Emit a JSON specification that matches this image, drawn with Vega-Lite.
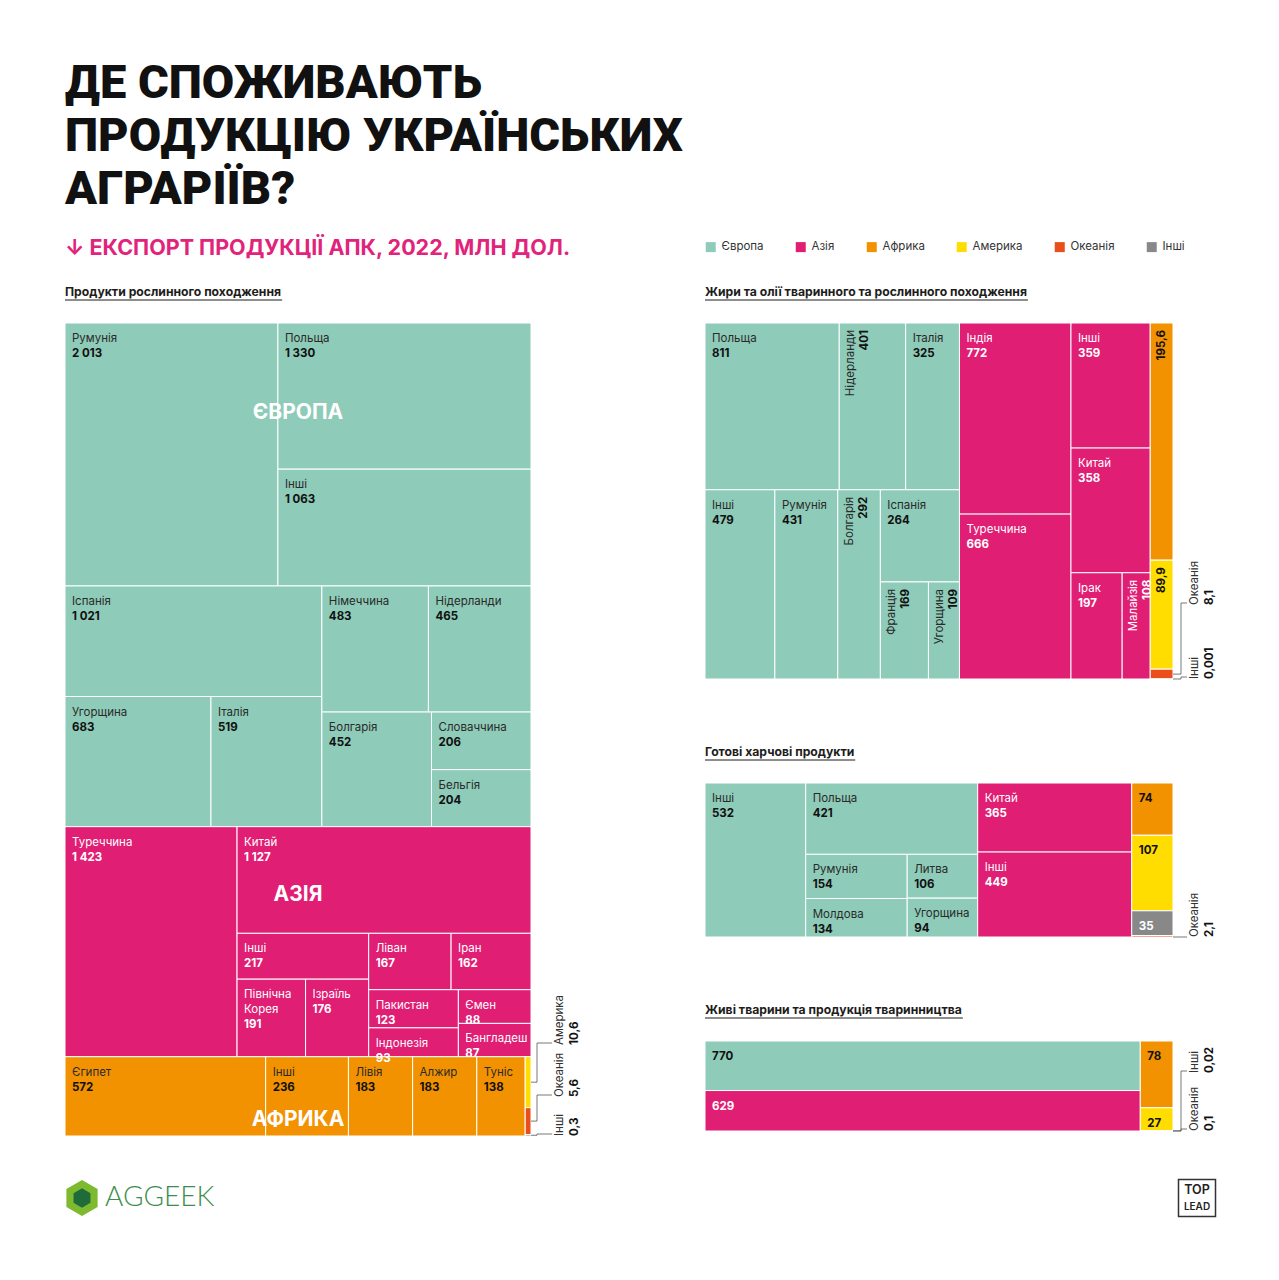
{
  "$schema": "https://vega.github.io/schema/vega-lite/v6.json",
  "background": "#ffffff",
  "padding": {"left": 64, "top": 59, "right": 0, "bottom": 0},
  "autosize": {"type": "pad"},
  "title": {
    "text": ["ДЕ СПОЖИВАЮТЬ", "ПРОДУКЦІЮ УКРАЇНСЬКИХ", "АГРАРІЇВ?"],
    "subtitle": "↓ ЕКСПОРТ ПРОДУКЦІЇ АПК, 2022, МЛН ДОЛ.",
    "anchor": "start", "frame": "group", "baseline": "top",
    "font": "Roboto", "fontSize": 47, "fontWeight": 900, "lineHeight": 53, "color": "#111111",
    "subtitleFont": "Inter", "subtitleFontSize": 21.5, "subtitleFontWeight": 700, "subtitleColor": "#E2237B",
    "subtitlePadding": 24, "offset": -19
  },
  "data": {"values": [
    {"pn": "P", "r": "Європа", "n": "Румунія", "v": 2013, "a": 1, "b": 1, "c": 1, "d": 1, "e": 1, "f": 1, "g": 1},
    {"pn": "P", "r": "Європа", "n": "Польща", "v": 1330, "a": 1, "b": 2, "c": 1, "d": 1, "e": 1, "f": 1, "g": 1},
    {"pn": "P", "r": "Європа", "n": "Інші", "v": 1063, "a": 1, "b": 2, "c": 2, "d": 1, "e": 1, "f": 1, "g": 1},
    {"pn": "P", "r": "Європа", "n": "Іспанія", "v": 1021, "a": 2, "b": 1, "c": 1, "d": 1, "e": 1, "f": 1, "g": 1},
    {"pn": "P", "r": "Європа", "n": "Угорщина", "v": 683, "a": 2, "b": 1, "c": 2, "d": 1, "e": 1, "f": 1, "g": 1},
    {"pn": "P", "r": "Європа", "n": "Італія", "v": 519, "a": 2, "b": 1, "c": 2, "d": 2, "e": 1, "f": 1, "g": 1},
    {"pn": "P", "r": "Європа", "n": "Німеччина", "v": 483, "a": 2, "b": 2, "c": 1, "d": 1, "e": 1, "f": 1, "g": 1},
    {"pn": "P", "r": "Європа", "n": "Нідерланди", "v": 465, "a": 2, "b": 2, "c": 1, "d": 2, "e": 1, "f": 1, "g": 1},
    {"pn": "P", "r": "Європа", "n": "Болгарія", "v": 452, "a": 2, "b": 2, "c": 2, "d": 1, "e": 1, "f": 1, "g": 1},
    {"pn": "P", "r": "Європа", "n": "Словаччина", "v": 206, "a": 2, "b": 2, "c": 2, "d": 2, "e": 1, "f": 1, "g": 1},
    {"pn": "P", "r": "Європа", "n": "Бельгія", "v": 204, "a": 2, "b": 2, "c": 2, "d": 2, "e": 2, "f": 1, "g": 1},
    {"pn": "P", "r": "Азія", "n": "Туреччина", "v": 1423, "a": 3, "b": 1, "c": 1, "d": 1, "e": 1, "f": 1, "g": 1},
    {"pn": "P", "r": "Азія", "n": "Китай", "v": 1127, "a": 3, "b": 2, "c": 1, "d": 1, "e": 1, "f": 1, "g": 1},
    {"pn": "P", "r": "Азія", "n": "Інші", "v": 217, "a": 3, "b": 2, "c": 2, "d": 1, "e": 1, "f": 1, "g": 1},
    {"pn": "P", "r": "Азія", "n": "Північна Корея", "v": 191, "a": 3, "b": 2, "c": 2, "d": 1, "e": 2, "f": 1, "g": 1},
    {"pn": "P", "r": "Азія", "n": "Ізраїль", "v": 176, "a": 3, "b": 2, "c": 2, "d": 1, "e": 2, "f": 2, "g": 1},
    {"pn": "P", "r": "Азія", "n": "Ліван", "v": 167, "a": 3, "b": 2, "c": 2, "d": 2, "e": 1, "f": 1, "g": 1},
    {"pn": "P", "r": "Азія", "n": "Іран", "v": 162, "a": 3, "b": 2, "c": 2, "d": 2, "e": 1, "f": 2, "g": 1},
    {"pn": "P", "r": "Азія", "n": "Пакистан", "v": 123, "a": 3, "b": 2, "c": 2, "d": 2, "e": 2, "f": 1, "g": 1},
    {"pn": "P", "r": "Азія", "n": "Індонезія", "v": 93, "a": 3, "b": 2, "c": 2, "d": 2, "e": 2, "f": 1, "g": 2},
    {"pn": "P", "r": "Азія", "n": "Ємен", "v": 88, "a": 3, "b": 2, "c": 2, "d": 2, "e": 2, "f": 2, "g": 1},
    {"pn": "P", "r": "Азія", "n": "Бангладеш", "v": 87, "a": 3, "b": 2, "c": 2, "d": 2, "e": 2, "f": 2, "g": 2},
    {"pn": "P", "r": "Африка", "n": "Єгипет", "v": 572, "a": 4, "b": 1, "c": 1, "d": 1, "e": 1, "f": 1, "g": 1},
    {"pn": "P", "r": "Африка", "n": "Інші", "v": 236, "a": 4, "b": 2, "c": 1, "d": 1, "e": 1, "f": 1, "g": 1},
    {"pn": "P", "r": "Африка", "n": "Лівія", "v": 183, "a": 4, "b": 3, "c": 1, "d": 1, "e": 1, "f": 1, "g": 1},
    {"pn": "P", "r": "Африка", "n": "Алжир", "v": 183, "a": 4, "b": 4, "c": 1, "d": 1, "e": 1, "f": 1, "g": 1},
    {"pn": "P", "r": "Африка", "n": "Туніс", "v": 138, "a": 4, "b": 5, "c": 1, "d": 1, "e": 1, "f": 1, "g": 1},
    {"pn": "P", "r": "Америка", "n": "Америка", "v": 10.6, "a": 4, "b": 6, "c": 1, "d": 1, "e": 1, "f": 1, "g": 1},
    {"pn": "P", "r": "Океанія", "n": "Океанія", "v": 5.6, "a": 4, "b": 6, "c": 2, "d": 1, "e": 1, "f": 1, "g": 1},
    {"pn": "P", "r": "Інші", "n": "Інші", "v": 0.3, "a": 4, "b": 6, "c": 3, "d": 1, "e": 1, "f": 1, "g": 1},

    {"pn": "F", "r": "Європа", "n": "Польща", "v": 811, "a": 1, "b": 1, "c": 1, "d": 1, "e": 1, "f": 1, "g": 1},
    {"pn": "F", "r": "Європа", "n": "Нідерланди", "v": 401, "a": 1, "b": 1, "c": 1, "d": 2, "e": 1, "f": 1, "g": 1},
    {"pn": "F", "r": "Європа", "n": "Італія", "v": 325, "a": 1, "b": 1, "c": 1, "d": 3, "e": 1, "f": 1, "g": 1},
    {"pn": "F", "r": "Європа", "n": "Інші", "v": 479, "a": 1, "b": 1, "c": 2, "d": 1, "e": 1, "f": 1, "g": 1},
    {"pn": "F", "r": "Європа", "n": "Румунія", "v": 431, "a": 1, "b": 1, "c": 2, "d": 2, "e": 1, "f": 1, "g": 1},
    {"pn": "F", "r": "Європа", "n": "Болгарія", "v": 292, "a": 1, "b": 1, "c": 2, "d": 3, "e": 1, "f": 1, "g": 1},
    {"pn": "F", "r": "Європа", "n": "Іспанія", "v": 264, "a": 1, "b": 1, "c": 2, "d": 4, "e": 1, "f": 1, "g": 1},
    {"pn": "F", "r": "Європа", "n": "Франція", "v": 169, "a": 1, "b": 1, "c": 2, "d": 4, "e": 2, "f": 1, "g": 1},
    {"pn": "F", "r": "Європа", "n": "Угорщина", "v": 109, "a": 1, "b": 1, "c": 2, "d": 4, "e": 2, "f": 2, "g": 1},
    {"pn": "F", "r": "Азія", "n": "Індія", "v": 772, "a": 1, "b": 2, "c": 1, "d": 1, "e": 1, "f": 1, "g": 1},
    {"pn": "F", "r": "Азія", "n": "Туреччина", "v": 666, "a": 1, "b": 2, "c": 2, "d": 1, "e": 1, "f": 1, "g": 1},
    {"pn": "F", "r": "Азія", "n": "Інші", "v": 359, "a": 1, "b": 3, "c": 1, "d": 1, "e": 1, "f": 1, "g": 1},
    {"pn": "F", "r": "Азія", "n": "Китай", "v": 358, "a": 1, "b": 3, "c": 2, "d": 1, "e": 1, "f": 1, "g": 1},
    {"pn": "F", "r": "Азія", "n": "Ірак", "v": 197, "a": 1, "b": 3, "c": 3, "d": 1, "e": 1, "f": 1, "g": 1},
    {"pn": "F", "r": "Азія", "n": "Малайзія", "v": 108, "a": 1, "b": 3, "c": 3, "d": 2, "e": 1, "f": 1, "g": 1},
    {"pn": "F", "r": "Африка", "n": "Африка", "v": 195.6, "a": 1, "b": 4, "c": 1, "d": 1, "e": 1, "f": 1, "g": 1},
    {"pn": "F", "r": "Америка", "n": "Америка", "v": 89.9, "a": 1, "b": 4, "c": 2, "d": 1, "e": 1, "f": 1, "g": 1},
    {"pn": "F", "r": "Океанія", "n": "Океанія", "v": 8.1, "a": 1, "b": 4, "c": 3, "d": 1, "e": 1, "f": 1, "g": 1},
    {"pn": "F", "r": "Інші", "n": "Інші", "v": 0.001, "a": 1, "b": 4, "c": 4, "d": 1, "e": 1, "f": 1, "g": 1},

    {"pn": "R", "r": "Європа", "n": "Інші", "v": 532, "a": 1, "b": 1, "c": 1, "d": 1, "e": 1, "f": 1, "g": 1},
    {"pn": "R", "r": "Європа", "n": "Польща", "v": 421, "a": 1, "b": 2, "c": 1, "d": 1, "e": 1, "f": 1, "g": 1},
    {"pn": "R", "r": "Європа", "n": "Румунія", "v": 154, "a": 1, "b": 2, "c": 2, "d": 1, "e": 1, "f": 1, "g": 1},
    {"pn": "R", "r": "Європа", "n": "Молдова", "v": 134, "a": 1, "b": 2, "c": 2, "d": 1, "e": 2, "f": 1, "g": 1},
    {"pn": "R", "r": "Європа", "n": "Литва", "v": 106, "a": 1, "b": 2, "c": 2, "d": 2, "e": 1, "f": 1, "g": 1},
    {"pn": "R", "r": "Європа", "n": "Угорщина", "v": 94, "a": 1, "b": 2, "c": 2, "d": 2, "e": 2, "f": 1, "g": 1},
    {"pn": "R", "r": "Азія", "n": "Китай", "v": 365, "a": 1, "b": 3, "c": 1, "d": 1, "e": 1, "f": 1, "g": 1},
    {"pn": "R", "r": "Азія", "n": "Інші", "v": 449, "a": 1, "b": 3, "c": 2, "d": 1, "e": 1, "f": 1, "g": 1},
    {"pn": "R", "r": "Африка", "n": "Африка", "v": 74, "a": 1, "b": 4, "c": 1, "d": 1, "e": 1, "f": 1, "g": 1},
    {"pn": "R", "r": "Америка", "n": "Америка", "v": 107, "a": 1, "b": 4, "c": 2, "d": 1, "e": 1, "f": 1, "g": 1},
    {"pn": "R", "r": "Інші", "n": "Інші", "v": 35, "a": 1, "b": 4, "c": 3, "d": 1, "e": 1, "f": 1, "g": 1},
    {"pn": "R", "r": "Океанія", "n": "Океанія", "v": 2.1, "a": 1, "b": 4, "c": 4, "d": 1, "e": 1, "f": 1, "g": 1},

    {"pn": "L", "r": "Європа", "n": "Європа", "v": 770, "a": 1, "b": 1, "c": 1, "d": 1, "e": 1, "f": 1, "g": 1},
    {"pn": "L", "r": "Азія", "n": "Азія", "v": 629, "a": 1, "b": 1, "c": 2, "d": 1, "e": 1, "f": 1, "g": 1},
    {"pn": "L", "r": "Африка", "n": "Африка", "v": 78, "a": 1, "b": 2, "c": 1, "d": 1, "e": 1, "f": 1, "g": 1},
    {"pn": "L", "r": "Америка", "n": "Америка", "v": 27, "a": 1, "b": 2, "c": 2, "d": 1, "e": 1, "f": 1, "g": 1},
    {"pn": "L", "r": "Інші", "n": "Інші", "v": 0.02, "a": 1, "b": 2, "c": 3, "d": 1, "e": 1, "f": 1, "g": 1},
    {"pn": "L", "r": "Океанія", "n": "Океанія", "v": 0.1, "a": 1, "b": 2, "c": 4, "d": 1, "e": 1, "f": 1, "g": 1}
  ]},
  "transform": [
    {"stack": "v", "groupby": ["pn"], "sort": [{"field": "a"}], "as": ["sa0", "sa1"]},
    {"joinaggregate": [{"op": "min", "field": "sa0", "as": "ca"}, {"op": "sum", "field": "v", "as": "ta"}], "groupby": ["pn", "a"]},
    {"joinaggregate": [{"op": "sum", "field": "v", "as": "pa"}], "groupby": ["pn"]},
    {"calculate": "datum.ca / datum.pa", "as": "ya0"},
    {"calculate": "(datum.ca + datum.ta) / datum.pa", "as": "ya1"},

    {"stack": "v", "groupby": ["pn", "a"], "sort": [{"field": "b"}], "as": ["sb0", "sb1"]},
    {"joinaggregate": [{"op": "min", "field": "sb0", "as": "cb"}, {"op": "sum", "field": "v", "as": "tb"}], "groupby": ["pn", "a", "b"]},
    {"joinaggregate": [{"op": "sum", "field": "v", "as": "pb"}], "groupby": ["pn", "a"]},
    {"calculate": "datum.cb / datum.pb", "as": "xb0"},
    {"calculate": "(datum.cb + datum.tb) / datum.pb", "as": "xb1"},

    {"stack": "v", "groupby": ["pn", "a", "b"], "sort": [{"field": "c"}], "as": ["sc0", "sc1"]},
    {"joinaggregate": [{"op": "min", "field": "sc0", "as": "cc"}, {"op": "sum", "field": "v", "as": "tc"}], "groupby": ["pn", "a", "b", "c"]},
    {"joinaggregate": [{"op": "sum", "field": "v", "as": "pc"}], "groupby": ["pn", "a", "b"]},
    {"calculate": "datum.ya0 + (datum.ya1 - datum.ya0) * datum.cc / datum.pc", "as": "yc0"},
    {"calculate": "datum.ya0 + (datum.ya1 - datum.ya0) * (datum.cc + datum.tc) / datum.pc", "as": "yc1"},

    {"stack": "v", "groupby": ["pn", "a", "b", "c"], "sort": [{"field": "d"}], "as": ["sd0", "sd1"]},
    {"joinaggregate": [{"op": "min", "field": "sd0", "as": "cd"}, {"op": "sum", "field": "v", "as": "td"}], "groupby": ["pn", "a", "b", "c", "d"]},
    {"joinaggregate": [{"op": "sum", "field": "v", "as": "pd"}], "groupby": ["pn", "a", "b", "c"]},
    {"calculate": "datum.xb0 + (datum.xb1 - datum.xb0) * datum.cd / datum.pd", "as": "xd0"},
    {"calculate": "datum.xb0 + (datum.xb1 - datum.xb0) * (datum.cd + datum.td) / datum.pd", "as": "xd1"},

    {"stack": "v", "groupby": ["pn", "a", "b", "c", "d"], "sort": [{"field": "e"}], "as": ["se0", "se1"]},
    {"joinaggregate": [{"op": "min", "field": "se0", "as": "ce"}, {"op": "sum", "field": "v", "as": "te"}], "groupby": ["pn", "a", "b", "c", "d", "e"]},
    {"joinaggregate": [{"op": "sum", "field": "v", "as": "pe"}], "groupby": ["pn", "a", "b", "c", "d"]},
    {"calculate": "datum.yc0 + (datum.yc1 - datum.yc0) * datum.ce / datum.pe", "as": "ye0"},
    {"calculate": "datum.yc0 + (datum.yc1 - datum.yc0) * (datum.ce + datum.te) / datum.pe", "as": "ye1"},

    {"stack": "v", "groupby": ["pn", "a", "b", "c", "d", "e"], "sort": [{"field": "f"}], "as": ["sf0", "sf1"]},
    {"joinaggregate": [{"op": "min", "field": "sf0", "as": "cf"}, {"op": "sum", "field": "v", "as": "tf"}], "groupby": ["pn", "a", "b", "c", "d", "e", "f"]},
    {"joinaggregate": [{"op": "sum", "field": "v", "as": "pf"}], "groupby": ["pn", "a", "b", "c", "d", "e"]},
    {"calculate": "datum.xd0 + (datum.xd1 - datum.xd0) * datum.cf / datum.pf", "as": "x0"},
    {"calculate": "datum.xd0 + (datum.xd1 - datum.xd0) * (datum.cf + datum.tf) / datum.pf", "as": "x1"},

    {"stack": "v", "groupby": ["pn", "a", "b", "c", "d", "e", "f"], "sort": [{"field": "g"}], "as": ["sg0", "sg1"]},
    {"joinaggregate": [{"op": "min", "field": "sg0", "as": "cg"}, {"op": "sum", "field": "v", "as": "tg"}], "groupby": ["pn", "a", "b", "c", "d", "e", "f", "g"]},
    {"joinaggregate": [{"op": "sum", "field": "v", "as": "pg"}], "groupby": ["pn", "a", "b", "c", "d", "e", "f"]},
    {"calculate": "datum.ye0 + (datum.ye1 - datum.ye0) * datum.cg / datum.pg", "as": "y0"},
    {"calculate": "datum.ye0 + (datum.ye1 - datum.ye0) * (datum.cg + datum.tg) / datum.pg", "as": "y1"},
    {"calculate": "(datum.y0 + datum.y1) / 2", "as": "ym"},

    {"calculate": "datum.pn + '|' + datum.r + '|' + datum.n", "as": "key"},
    {"calculate": "indexof(['P|Америка|Америка','P|Океанія|Океанія','P|Інші|Інші','F|Океанія|Океанія','F|Інші|Інші','R|Океанія|Океанія','L|Інші|Інші','L|Океанія|Океанія'], datum.key) >= 0 ? 'out' : (indexof(['F|Європа|Нідерланди','F|Європа|Болгарія','F|Європа|Франція','F|Європа|Угорщина','F|Азія|Малайзія','F|Африка|Африка','F|Америка|Америка'], datum.key) >= 0 ? 'rot' : 'in')", "as": "mode"},
    {"calculate": "indexof(['F|Африка|Африка','F|Америка|Америка','R|Африка|Африка','R|Америка|Америка','R|Інші|Інші','L|Європа|Європа','L|Азія|Азія','L|Африка|Африка','L|Америка|Америка'], datum.key) >= 0 ? '' : datum.n", "as": "nm"},
    {"calculate": "replace(replace(format(datum.v, ','), ',', ' '), '.', ',')", "as": "fmt"},
    {"calculate": "datum.nm == '' ? 0 : length(split(datum.nm, ' '))", "as": "nl"},
    {"calculate": "1 - (datum.key == 'P|Америка|Америка' ? 91 : datum.key == 'P|Океанія|Океанія' ? 39 : datum.key == 'F|Океанія|Океанія' ? 74 : datum.key == 'L|Інші|Інші' ? 58 : 0) / (datum.pn == 'P' ? 813 : datum.pn == 'F' ? 356 : datum.pn == 'R' ? 154 : 90)", "as": "ly"}
  ],
  "vconcat": [
    {
      "hconcat": [
        {
          "width": 466, "height": 813,
          "title": "Продукти рослинного походження",
          "transform": [{"filter": "datum.pn == 'P'"}],
          "layer": [
            {"mark": {"type": "rect", "stroke": "#ffffff", "strokeWidth": 1},
             "encoding": {
               "x": {"field": "x0", "type": "quantitative", "scale": {"domain": [0, 1], "nice": false, "zero": false}, "axis": null},
               "x2": {"field": "x1"},
               "y": {"field": "y0", "type": "quantitative", "scale": {"domain": [0, 1], "nice": false, "zero": false, "reverse": true}, "axis": null},
               "y2": {"field": "y1"},
               "color": {"field": "r", "type": "nominal", "scale": {"domain": ["Європа", "Азія", "Африка", "Америка", "Океанія", "Інші"], "range": ["#8ECBB8", "#E01E74", "#F39200", "#FFDD00", "#E94E1B", "#888888"]}, "legend": {"title": null}}}},
            {"transform": [{"aggregate": [{"op": "count", "as": "cnt"}]}],
             "mark": {"type": "rule", "color": "#1d1d1b", "strokeWidth": 1, "yOffset": -23},
             "encoding": {
               "x": {"datum": 0, "type": "quantitative", "scale": {"domain": [0, 1], "nice": false, "zero": false}, "axis": null},
               "x2": {"datum": 0.466},
               "y": {"datum": 0, "type": "quantitative", "scale": {"domain": [0, 1], "nice": false, "zero": false, "reverse": true}, "axis": null}}},
            {"transform": [{"filter": "datum.mode == 'in' && datum.nm != ''"}],
             "mark": {"type": "text", "align": "left", "baseline": "top", "dx": 7, "dy": 10, "font": "Inter", "fontSize": 11.5, "lineBreak": " ", "lineHeight": 15},
             "encoding": {
               "x": {"field": "x0", "type": "quantitative", "scale": {"domain": [0, 1], "nice": false, "zero": false}, "axis": null},
               "y": {"field": "y0", "type": "quantitative", "scale": {"domain": [0, 1], "nice": false, "zero": false, "reverse": true}, "axis": null},
               "text": {"field": "nm"},
               "color": {"condition": {"test": "datum.r == 'Азія' || datum.r == 'Інші'", "value": "#ffffff"}, "value": "#2a2a2a"}}},
            {"transform": [{"filter": "datum.mode == 'in' && datum.nl == 1"}],
             "mark": {"type": "text", "align": "left", "baseline": "top", "dx": 7, "dy": 25, "font": "Inter", "fontSize": 11.5, "fontWeight": 700},
             "encoding": {
               "x": {"field": "x0", "type": "quantitative", "scale": {"domain": [0, 1], "nice": false, "zero": false}, "axis": null},
               "y": {"field": "y0", "type": "quantitative", "scale": {"domain": [0, 1], "nice": false, "zero": false, "reverse": true}, "axis": null},
               "text": {"field": "fmt"},
               "color": {"condition": {"test": "datum.r == 'Азія' || datum.r == 'Інші'", "value": "#ffffff"}, "value": "#111111"}}},
            {"transform": [{"filter": "datum.mode == 'in' && datum.nl == 2"}],
             "mark": {"type": "text", "align": "left", "baseline": "top", "dx": 7, "dy": 40, "font": "Inter", "fontSize": 11.5, "fontWeight": 700},
             "encoding": {
               "x": {"field": "x0", "type": "quantitative", "scale": {"domain": [0, 1], "nice": false, "zero": false}, "axis": null},
               "y": {"field": "y0", "type": "quantitative", "scale": {"domain": [0, 1], "nice": false, "zero": false, "reverse": true}, "axis": null},
               "text": {"field": "fmt"},
               "color": {"condition": {"test": "datum.r == 'Азія' || datum.r == 'Інші'", "value": "#ffffff"}, "value": "#111111"}}},
            {"transform": [{"filter": "datum.mode == 'out'"}],
             "mark": {"type": "text", "angle": 270, "align": "left", "baseline": "top", "dy": 23, "font": "Inter", "fontSize": 11.5, "color": "#333333"},
             "encoding": {
               "x": {"datum": 1, "type": "quantitative", "scale": {"domain": [0, 1], "nice": false, "zero": false}, "axis": null},
               "y": {"field": "ly", "type": "quantitative", "scale": {"domain": [0, 1], "nice": false, "zero": false, "reverse": true}, "axis": null},
               "text": {"field": "n"}}},
            {"transform": [{"filter": "datum.mode == 'out'"}],
             "mark": {"type": "text", "angle": 270, "align": "left", "baseline": "top", "dy": 38, "font": "Inter", "fontSize": 11.5, "fontWeight": 700, "color": "#111111"},
             "encoding": {
               "x": {"datum": 1, "type": "quantitative", "scale": {"domain": [0, 1], "nice": false, "zero": false}, "axis": null},
               "y": {"field": "ly", "type": "quantitative", "scale": {"domain": [0, 1], "nice": false, "zero": false, "reverse": true}, "axis": null},
               "text": {"field": "fmt"}}},
            {"transform": [{"filter": "datum.mode == 'out'"}],
             "mark": {"type": "rule", "color": "#555555", "strokeWidth": 0.8, "x2Offset": 6},
             "encoding": {
               "x": {"datum": 1, "type": "quantitative", "scale": {"domain": [0, 1], "nice": false, "zero": false}, "axis": null},
               "x2": {"datum": 1},
               "y": {"field": "ym", "type": "quantitative", "scale": {"domain": [0, 1], "nice": false, "zero": false, "reverse": true}, "axis": null}}},
            {"transform": [{"filter": "datum.mode == 'out'"}],
             "mark": {"type": "rule", "color": "#555555", "strokeWidth": 0.8, "xOffset": 6, "y2Offset": -2},
             "encoding": {
               "x": {"datum": 1, "type": "quantitative", "scale": {"domain": [0, 1], "nice": false, "zero": false}, "axis": null},
               "y": {"field": "ym", "type": "quantitative", "scale": {"domain": [0, 1], "nice": false, "zero": false, "reverse": true}, "axis": null},
               "y2": {"field": "ly"}}},
            {"transform": [{"filter": "datum.mode == 'out'"}],
             "mark": {"type": "rule", "color": "#555555", "strokeWidth": 0.8, "xOffset": 6, "x2Offset": 21, "yOffset": -2},
             "encoding": {
               "x": {"datum": 1, "type": "quantitative", "scale": {"domain": [0, 1], "nice": false, "zero": false}, "axis": null},
               "x2": {"datum": 1},
               "y": {"field": "ly", "type": "quantitative", "scale": {"domain": [0, 1], "nice": false, "zero": false, "reverse": true}, "axis": null}}},
            {"transform": [
               {"filter": "datum.r == 'Європа' || datum.r == 'Азія' || datum.r == 'Африка'"},
               {"aggregate": [{"op": "min", "field": "y0", "as": "t"}, {"op": "max", "field": "y1", "as": "b"}], "groupby": ["r"]},
               {"calculate": "datum.t + (datum.b - datum.t) * (datum.r == 'Європа' ? 0.178 : datum.r == 'Азія' ? 0.297 : 0.8)", "as": "by"},
               {"calculate": "upper(datum.r)", "as": "bl"}],
             "mark": {"type": "text", "align": "center", "baseline": "middle", "font": "Inter", "fontSize": 21, "fontWeight": 700, "color": "#ffffff"},
             "encoding": {
               "x": {"datum": 0.5, "type": "quantitative", "scale": {"domain": [0, 1], "nice": false, "zero": false}, "axis": null},
               "y": {"field": "by", "type": "quantitative", "scale": {"domain": [0, 1], "nice": false, "zero": false, "reverse": true}, "axis": null},
               "text": {"field": "bl"}}}
          ]
        },
        {
          "vconcat": [
            {
              "width": 468, "height": 356,
              "title": "Жири та олії тваринного та рослинного походження",
              "transform": [{"filter": "datum.pn == 'F'"}],
              "layer": [
                {"mark": {"type": "rect", "stroke": "#ffffff", "strokeWidth": 1},
                 "encoding": {
                   "x": {"field": "x0", "type": "quantitative", "scale": {"domain": [0, 1], "nice": false, "zero": false}, "axis": null},
                   "x2": {"field": "x1"},
                   "y": {"field": "y0", "type": "quantitative", "scale": {"domain": [0, 1], "nice": false, "zero": false, "reverse": true}, "axis": null},
                   "y2": {"field": "y1"},
                   "color": {"field": "r", "type": "nominal", "scale": {"domain": ["Європа", "Азія", "Африка", "Америка", "Океанія", "Інші"], "range": ["#8ECBB8", "#E01E74", "#F39200", "#FFDD00", "#E94E1B", "#888888"]}, "legend": {"title": null}}}},
                {"transform": [{"aggregate": [{"op": "count", "as": "cnt"}]}],
                 "mark": {"type": "rule", "color": "#1d1d1b", "strokeWidth": 1, "yOffset": -23},
                 "encoding": {
                   "x": {"datum": 0, "type": "quantitative", "scale": {"domain": [0, 1], "nice": false, "zero": false}, "axis": null},
                   "x2": {"datum": 0.69},
                   "y": {"datum": 0, "type": "quantitative", "scale": {"domain": [0, 1], "nice": false, "zero": false, "reverse": true}, "axis": null}}},
                {"transform": [{"filter": "datum.mode == 'in' && datum.nm != ''"}],
                 "mark": {"type": "text", "align": "left", "baseline": "top", "dx": 7, "dy": 10, "font": "Inter", "fontSize": 11.5},
                 "encoding": {
                   "x": {"field": "x0", "type": "quantitative", "scale": {"domain": [0, 1], "nice": false, "zero": false}, "axis": null},
                   "y": {"field": "y0", "type": "quantitative", "scale": {"domain": [0, 1], "nice": false, "zero": false, "reverse": true}, "axis": null},
                   "text": {"field": "nm"},
                   "color": {"condition": {"test": "datum.r == 'Азія' || datum.r == 'Інші'", "value": "#ffffff"}, "value": "#2a2a2a"}}},
                {"transform": [{"filter": "datum.mode == 'in' && datum.nl == 1"}],
                 "mark": {"type": "text", "align": "left", "baseline": "top", "dx": 7, "dy": 25, "font": "Inter", "fontSize": 11.5, "fontWeight": 700},
                 "encoding": {
                   "x": {"field": "x0", "type": "quantitative", "scale": {"domain": [0, 1], "nice": false, "zero": false}, "axis": null},
                   "y": {"field": "y0", "type": "quantitative", "scale": {"domain": [0, 1], "nice": false, "zero": false, "reverse": true}, "axis": null},
                   "text": {"field": "fmt"},
                   "color": {"condition": {"test": "datum.r == 'Азія' || datum.r == 'Інші'", "value": "#ffffff"}, "value": "#111111"}}},
                {"transform": [{"filter": "datum.mode == 'rot' && datum.nm != ''"}],
                 "mark": {"type": "text", "angle": 270, "align": "right", "baseline": "top", "dx": -7, "dy": 6, "font": "Inter", "fontSize": 11.5},
                 "encoding": {
                   "x": {"field": "x0", "type": "quantitative", "scale": {"domain": [0, 1], "nice": false, "zero": false}, "axis": null},
                   "y": {"field": "y0", "type": "quantitative", "scale": {"domain": [0, 1], "nice": false, "zero": false, "reverse": true}, "axis": null},
                   "text": {"field": "nm"},
                   "color": {"condition": {"test": "datum.r == 'Азія' || datum.r == 'Інші'", "value": "#ffffff"}, "value": "#2a2a2a"}}},
                {"transform": [{"filter": "datum.mode == 'rot' && datum.nm != ''"}],
                 "mark": {"type": "text", "angle": 270, "align": "right", "baseline": "top", "dx": -7, "dy": 20, "font": "Inter", "fontSize": 11.5, "fontWeight": 700},
                 "encoding": {
                   "x": {"field": "x0", "type": "quantitative", "scale": {"domain": [0, 1], "nice": false, "zero": false}, "axis": null},
                   "y": {"field": "y0", "type": "quantitative", "scale": {"domain": [0, 1], "nice": false, "zero": false, "reverse": true}, "axis": null},
                   "text": {"field": "fmt"},
                   "color": {"condition": {"test": "datum.r == 'Азія' || datum.r == 'Інші'", "value": "#ffffff"}, "value": "#111111"}}},
                {"transform": [{"filter": "datum.mode == 'rot' && datum.nm == ''"}],
                 "mark": {"type": "text", "angle": 270, "align": "right", "baseline": "top", "dx": -7, "dy": 6, "font": "Inter", "fontSize": 11.5, "fontWeight": 700},
                 "encoding": {
                   "x": {"field": "x0", "type": "quantitative", "scale": {"domain": [0, 1], "nice": false, "zero": false}, "axis": null},
                   "y": {"field": "y0", "type": "quantitative", "scale": {"domain": [0, 1], "nice": false, "zero": false, "reverse": true}, "axis": null},
                   "text": {"field": "fmt"},
                   "color": {"condition": {"test": "datum.r == 'Азія' || datum.r == 'Інші'", "value": "#ffffff"}, "value": "#111111"}}},
                {"transform": [{"filter": "datum.mode == 'out'"}],
                 "mark": {"type": "text", "angle": 270, "align": "left", "baseline": "top", "dy": 16, "font": "Inter", "fontSize": 11.5, "color": "#333333"},
                 "encoding": {
                   "x": {"datum": 1, "type": "quantitative", "scale": {"domain": [0, 1], "nice": false, "zero": false}, "axis": null},
                   "y": {"field": "ly", "type": "quantitative", "scale": {"domain": [0, 1], "nice": false, "zero": false, "reverse": true}, "axis": null},
                   "text": {"field": "n"}}},
                {"transform": [{"filter": "datum.mode == 'out'"}],
                 "mark": {"type": "text", "angle": 270, "align": "left", "baseline": "top", "dy": 31, "font": "Inter", "fontSize": 11.5, "fontWeight": 700, "color": "#111111"},
                 "encoding": {
                   "x": {"datum": 1, "type": "quantitative", "scale": {"domain": [0, 1], "nice": false, "zero": false}, "axis": null},
                   "y": {"field": "ly", "type": "quantitative", "scale": {"domain": [0, 1], "nice": false, "zero": false, "reverse": true}, "axis": null},
                   "text": {"field": "fmt"}}},
                {"transform": [{"filter": "datum.mode == 'out'"}],
                 "mark": {"type": "rule", "color": "#555555", "strokeWidth": 0.8, "x2Offset": 8},
                 "encoding": {
                   "x": {"datum": 1, "type": "quantitative", "scale": {"domain": [0, 1], "nice": false, "zero": false}, "axis": null},
                   "x2": {"datum": 1},
                   "y": {"field": "ym", "type": "quantitative", "scale": {"domain": [0, 1], "nice": false, "zero": false, "reverse": true}, "axis": null}}},
                {"transform": [{"filter": "datum.mode == 'out'"}],
                 "mark": {"type": "rule", "color": "#555555", "strokeWidth": 0.8, "xOffset": 8, "y2Offset": -2},
                 "encoding": {
                   "x": {"datum": 1, "type": "quantitative", "scale": {"domain": [0, 1], "nice": false, "zero": false}, "axis": null},
                   "y": {"field": "ym", "type": "quantitative", "scale": {"domain": [0, 1], "nice": false, "zero": false, "reverse": true}, "axis": null},
                   "y2": {"field": "ly"}}},
                {"transform": [{"filter": "datum.mode == 'out'"}],
                 "mark": {"type": "rule", "color": "#555555", "strokeWidth": 0.8, "xOffset": 8, "x2Offset": 14, "yOffset": -2},
                 "encoding": {
                   "x": {"datum": 1, "type": "quantitative", "scale": {"domain": [0, 1], "nice": false, "zero": false}, "axis": null},
                   "x2": {"datum": 1},
                   "y": {"field": "ly", "type": "quantitative", "scale": {"domain": [0, 1], "nice": false, "zero": false, "reverse": true}, "axis": null}}}
              ]
            },
            {
              "width": 468, "height": 154,
              "title": "Готові харчові продукти",
              "transform": [{"filter": "datum.pn == 'R'"}],
              "layer": [
                {"mark": {"type": "rect", "stroke": "#ffffff", "strokeWidth": 1},
                 "encoding": {
                   "x": {"field": "x0", "type": "quantitative", "scale": {"domain": [0, 1], "nice": false, "zero": false}, "axis": null},
                   "x2": {"field": "x1"},
                   "y": {"field": "y0", "type": "quantitative", "scale": {"domain": [0, 1], "nice": false, "zero": false, "reverse": true}, "axis": null},
                   "y2": {"field": "y1"},
                   "color": {"field": "r", "type": "nominal", "scale": {"domain": ["Європа", "Азія", "Африка", "Америка", "Океанія", "Інші"], "range": ["#8ECBB8", "#E01E74", "#F39200", "#FFDD00", "#E94E1B", "#888888"]}, "legend": {"title": null}}}},
                {"transform": [{"aggregate": [{"op": "count", "as": "cnt"}]}],
                 "mark": {"type": "rule", "color": "#1d1d1b", "strokeWidth": 1, "yOffset": -23},
                 "encoding": {
                   "x": {"datum": 0, "type": "quantitative", "scale": {"domain": [0, 1], "nice": false, "zero": false}, "axis": null},
                   "x2": {"datum": 0.321},
                   "y": {"datum": 0, "type": "quantitative", "scale": {"domain": [0, 1], "nice": false, "zero": false, "reverse": true}, "axis": null}}},
                {"transform": [{"filter": "datum.mode == 'in' && datum.nm != ''"}],
                 "mark": {"type": "text", "align": "left", "baseline": "top", "dx": 7, "dy": 10, "font": "Inter", "fontSize": 11.5},
                 "encoding": {
                   "x": {"field": "x0", "type": "quantitative", "scale": {"domain": [0, 1], "nice": false, "zero": false}, "axis": null},
                   "y": {"field": "y0", "type": "quantitative", "scale": {"domain": [0, 1], "nice": false, "zero": false, "reverse": true}, "axis": null},
                   "text": {"field": "nm"},
                   "color": {"condition": {"test": "datum.r == 'Азія' || datum.r == 'Інші'", "value": "#ffffff"}, "value": "#2a2a2a"}}},
                {"transform": [{"filter": "datum.mode == 'in' && datum.nl == 1"}],
                 "mark": {"type": "text", "align": "left", "baseline": "top", "dx": 7, "dy": 25, "font": "Inter", "fontSize": 11.5, "fontWeight": 700},
                 "encoding": {
                   "x": {"field": "x0", "type": "quantitative", "scale": {"domain": [0, 1], "nice": false, "zero": false}, "axis": null},
                   "y": {"field": "y0", "type": "quantitative", "scale": {"domain": [0, 1], "nice": false, "zero": false, "reverse": true}, "axis": null},
                   "text": {"field": "fmt"},
                   "color": {"condition": {"test": "datum.r == 'Азія' || datum.r == 'Інші'", "value": "#ffffff"}, "value": "#111111"}}},
                {"transform": [{"filter": "datum.mode == 'in' && datum.nl == 0"}],
                 "mark": {"type": "text", "align": "left", "baseline": "top", "dx": 7, "dy": 10, "font": "Inter", "fontSize": 11.5, "fontWeight": 700},
                 "encoding": {
                   "x": {"field": "x0", "type": "quantitative", "scale": {"domain": [0, 1], "nice": false, "zero": false}, "axis": null},
                   "y": {"field": "y0", "type": "quantitative", "scale": {"domain": [0, 1], "nice": false, "zero": false, "reverse": true}, "axis": null},
                   "text": {"field": "fmt"},
                   "color": {"condition": {"test": "datum.r == 'Азія' || datum.r == 'Інші'", "value": "#ffffff"}, "value": "#111111"}}},
                {"transform": [{"filter": "datum.mode == 'out'"}],
                 "mark": {"type": "text", "angle": 270, "align": "left", "baseline": "top", "dy": 16, "font": "Inter", "fontSize": 11.5, "color": "#333333"},
                 "encoding": {
                   "x": {"datum": 1, "type": "quantitative", "scale": {"domain": [0, 1], "nice": false, "zero": false}, "axis": null},
                   "y": {"field": "ly", "type": "quantitative", "scale": {"domain": [0, 1], "nice": false, "zero": false, "reverse": true}, "axis": null},
                   "text": {"field": "n"}}},
                {"transform": [{"filter": "datum.mode == 'out'"}],
                 "mark": {"type": "text", "angle": 270, "align": "left", "baseline": "top", "dy": 31, "font": "Inter", "fontSize": 11.5, "fontWeight": 700, "color": "#111111"},
                 "encoding": {
                   "x": {"datum": 1, "type": "quantitative", "scale": {"domain": [0, 1], "nice": false, "zero": false}, "axis": null},
                   "y": {"field": "ly", "type": "quantitative", "scale": {"domain": [0, 1], "nice": false, "zero": false, "reverse": true}, "axis": null},
                   "text": {"field": "fmt"}}},
                {"transform": [{"filter": "datum.mode == 'out'"}],
                 "mark": {"type": "rule", "color": "#555555", "strokeWidth": 0.8, "x2Offset": 14},
                 "encoding": {
                   "x": {"datum": 1, "type": "quantitative", "scale": {"domain": [0, 1], "nice": false, "zero": false}, "axis": null},
                   "x2": {"datum": 1},
                   "y": {"field": "ly", "type": "quantitative", "scale": {"domain": [0, 1], "nice": false, "zero": false, "reverse": true}, "axis": null}}}
              ]
            },
            {
              "width": 468, "height": 90,
              "title": "Живі тварини та продукція тваринництва",
              "transform": [{"filter": "datum.pn == 'L'"}],
              "layer": [
                {"mark": {"type": "rect", "stroke": "#ffffff", "strokeWidth": 1},
                 "encoding": {
                   "x": {"field": "x0", "type": "quantitative", "scale": {"domain": [0, 1], "nice": false, "zero": false}, "axis": null},
                   "x2": {"field": "x1"},
                   "y": {"field": "y0", "type": "quantitative", "scale": {"domain": [0, 1], "nice": false, "zero": false, "reverse": true}, "axis": null},
                   "y2": {"field": "y1"},
                   "color": {"field": "r", "type": "nominal", "scale": {"domain": ["Європа", "Азія", "Африка", "Америка", "Океанія", "Інші"], "range": ["#8ECBB8", "#E01E74", "#F39200", "#FFDD00", "#E94E1B", "#888888"]}, "legend": {"title": null}}}},
                {"transform": [{"aggregate": [{"op": "count", "as": "cnt"}]}],
                 "mark": {"type": "rule", "color": "#1d1d1b", "strokeWidth": 1, "yOffset": -23},
                 "encoding": {
                   "x": {"datum": 0, "type": "quantitative", "scale": {"domain": [0, 1], "nice": false, "zero": false}, "axis": null},
                   "x2": {"datum": 0.551},
                   "y": {"datum": 0, "type": "quantitative", "scale": {"domain": [0, 1], "nice": false, "zero": false, "reverse": true}, "axis": null}}},
                {"transform": [{"filter": "datum.mode == 'in' && datum.nl == 0"}],
                 "mark": {"type": "text", "align": "left", "baseline": "top", "dx": 7, "dy": 10, "font": "Inter", "fontSize": 11.5, "fontWeight": 700},
                 "encoding": {
                   "x": {"field": "x0", "type": "quantitative", "scale": {"domain": [0, 1], "nice": false, "zero": false}, "axis": null},
                   "y": {"field": "y0", "type": "quantitative", "scale": {"domain": [0, 1], "nice": false, "zero": false, "reverse": true}, "axis": null},
                   "text": {"field": "fmt"},
                   "color": {"condition": {"test": "datum.r == 'Азія' || datum.r == 'Інші'", "value": "#ffffff"}, "value": "#111111"}}},
                {"transform": [{"filter": "datum.mode == 'out'"}],
                 "mark": {"type": "text", "angle": 270, "align": "left", "baseline": "top", "dy": 16, "font": "Inter", "fontSize": 11.5, "color": "#333333"},
                 "encoding": {
                   "x": {"datum": 1, "type": "quantitative", "scale": {"domain": [0, 1], "nice": false, "zero": false}, "axis": null},
                   "y": {"field": "ly", "type": "quantitative", "scale": {"domain": [0, 1], "nice": false, "zero": false, "reverse": true}, "axis": null},
                   "text": {"field": "n"}}},
                {"transform": [{"filter": "datum.mode == 'out'"}],
                 "mark": {"type": "text", "angle": 270, "align": "left", "baseline": "top", "dy": 31, "font": "Inter", "fontSize": 11.5, "fontWeight": 700, "color": "#111111"},
                 "encoding": {
                   "x": {"datum": 1, "type": "quantitative", "scale": {"domain": [0, 1], "nice": false, "zero": false}, "axis": null},
                   "y": {"field": "ly", "type": "quantitative", "scale": {"domain": [0, 1], "nice": false, "zero": false, "reverse": true}, "axis": null},
                   "text": {"field": "fmt"}}},
                {"transform": [{"filter": "datum.mode == 'out'"}],
                 "mark": {"type": "rule", "color": "#555555", "strokeWidth": 0.8, "x2Offset": 8},
                 "encoding": {
                   "x": {"datum": 1, "type": "quantitative", "scale": {"domain": [0, 1], "nice": false, "zero": false}, "axis": null},
                   "x2": {"datum": 1},
                   "y": {"field": "ym", "type": "quantitative", "scale": {"domain": [0, 1], "nice": false, "zero": false, "reverse": true}, "axis": null}}},
                {"transform": [{"filter": "datum.mode == 'out'"}],
                 "mark": {"type": "rule", "color": "#555555", "strokeWidth": 0.8, "xOffset": 8, "y2Offset": -2},
                 "encoding": {
                   "x": {"datum": 1, "type": "quantitative", "scale": {"domain": [0, 1], "nice": false, "zero": false}, "axis": null},
                   "y": {"field": "ym", "type": "quantitative", "scale": {"domain": [0, 1], "nice": false, "zero": false, "reverse": true}, "axis": null},
                   "y2": {"field": "ly"}}},
                {"transform": [{"filter": "datum.mode == 'out'"}],
                 "mark": {"type": "rule", "color": "#555555", "strokeWidth": 0.8, "xOffset": 8, "x2Offset": 14, "yOffset": -2},
                 "encoding": {
                   "x": {"datum": 1, "type": "quantitative", "scale": {"domain": [0, 1], "nice": false, "zero": false}, "axis": null},
                   "x2": {"datum": 1},
                   "y": {"field": "ly", "type": "quantitative", "scale": {"domain": [0, 1], "nice": false, "zero": false, "reverse": true}, "axis": null}}}
              ]
            }
          ],
          "spacing": 104,
          "bounds": "flush"
        }
      ],
      "spacing": 174,
      "bounds": "flush"
    },
    {
      "width": 1151, "height": 40,
      "data": {"values": [{"k": "L", "t": "AGGEEK"}, {"k": "R", "t": "TOP"}]},
      "layer": [
        {"transform": [{"filter": "datum.k == 'L'"}],
         "mark": {"type": "point", "shape": "M0,-1L0.866,-0.5L0.866,0.5L0,1L-0.866,0.5L-0.866,-0.5Z", "size": 1300, "filled": true, "opacity": 1, "color": "#7DBA2F", "xOffset": 17},
         "encoding": {"x": {"field": "k", "type": "nominal", "scale": {"type": "point", "domain": ["L", "R"], "padding": 0}, "axis": null}}},
        {"transform": [{"filter": "datum.k == 'L'"}],
         "mark": {"type": "point", "shape": "M0,-1L0.866,-0.5L0.866,0.5L0,1L-0.866,0.5L-0.866,-0.5Z", "size": 380, "filled": true, "opacity": 1, "color": "#1F6B3A", "xOffset": 17},
         "encoding": {"x": {"field": "k", "type": "nominal", "scale": {"type": "point", "domain": ["L", "R"], "padding": 0}, "axis": null}}},
        {"transform": [{"filter": "datum.k == 'L'"}],
         "mark": {"type": "text", "align": "left", "baseline": "middle", "dx": 40, "font": "Lato", "fontSize": 28, "fontWeight": 300, "color": "#3B8E4B"},
         "encoding": {"x": {"field": "k", "type": "nominal", "scale": {"type": "point", "domain": ["L", "R"], "padding": 0}, "axis": null}, "text": {"field": "t"}}},
        {"transform": [{"filter": "datum.k == 'R'"}],
         "mark": {"type": "point", "shape": "square", "size": 1369, "filled": false, "opacity": 1, "stroke": "#333333", "strokeWidth": 1.5, "xOffset": -19},
         "encoding": {"x": {"field": "k", "type": "nominal", "scale": {"type": "point", "domain": ["L", "R"], "padding": 0}, "axis": null}}},
        {"transform": [{"filter": "datum.k == 'R'"}],
         "mark": {"type": "text", "align": "center", "baseline": "middle", "dx": -19, "dy": -8, "font": "Inter", "fontSize": 12.5, "fontWeight": 600, "color": "#222222"},
         "encoding": {"x": {"field": "k", "type": "nominal", "scale": {"type": "point", "domain": ["L", "R"], "padding": 0}, "axis": null}, "text": {"field": "t"}}},
        {"transform": [{"filter": "datum.k == 'R'"}, {"calculate": "'LEAD'", "as": "t2"}],
         "mark": {"type": "text", "align": "center", "baseline": "middle", "dx": -19, "dy": 9, "font": "Inter", "fontSize": 10, "fontWeight": 600, "color": "#222222"},
         "encoding": {"x": {"field": "k", "type": "nominal", "scale": {"type": "point", "domain": ["L", "R"], "padding": 0}, "axis": null}, "text": {"field": "t2"}}}
      ]
    }
  ],
  "spacing": 39,
  "resolve": {"scale": {"color": "shared"}, "legend": {"color": "shared"}},
  "config": {
    "view": {"stroke": null},
    "font": "Inter",
    "title": {"font": "Inter", "fontSize": 12.2, "fontWeight": 700, "color": "#1d1d1b", "anchor": "start", "frame": "group", "baseline": "bottom", "offset": 1},
    "legend": {"orient": "none", "legendX": 640, "legendY": -82, "direction": "horizontal", "columns": 6, "symbolType": "square", "symbolSize": 100, "symbolStrokeWidth": 0, "labelFont": "Inter", "labelFontSize": 11.5, "labelColor": "#333333", "labelOffset": 5, "columnPadding": 31}
  }
}
